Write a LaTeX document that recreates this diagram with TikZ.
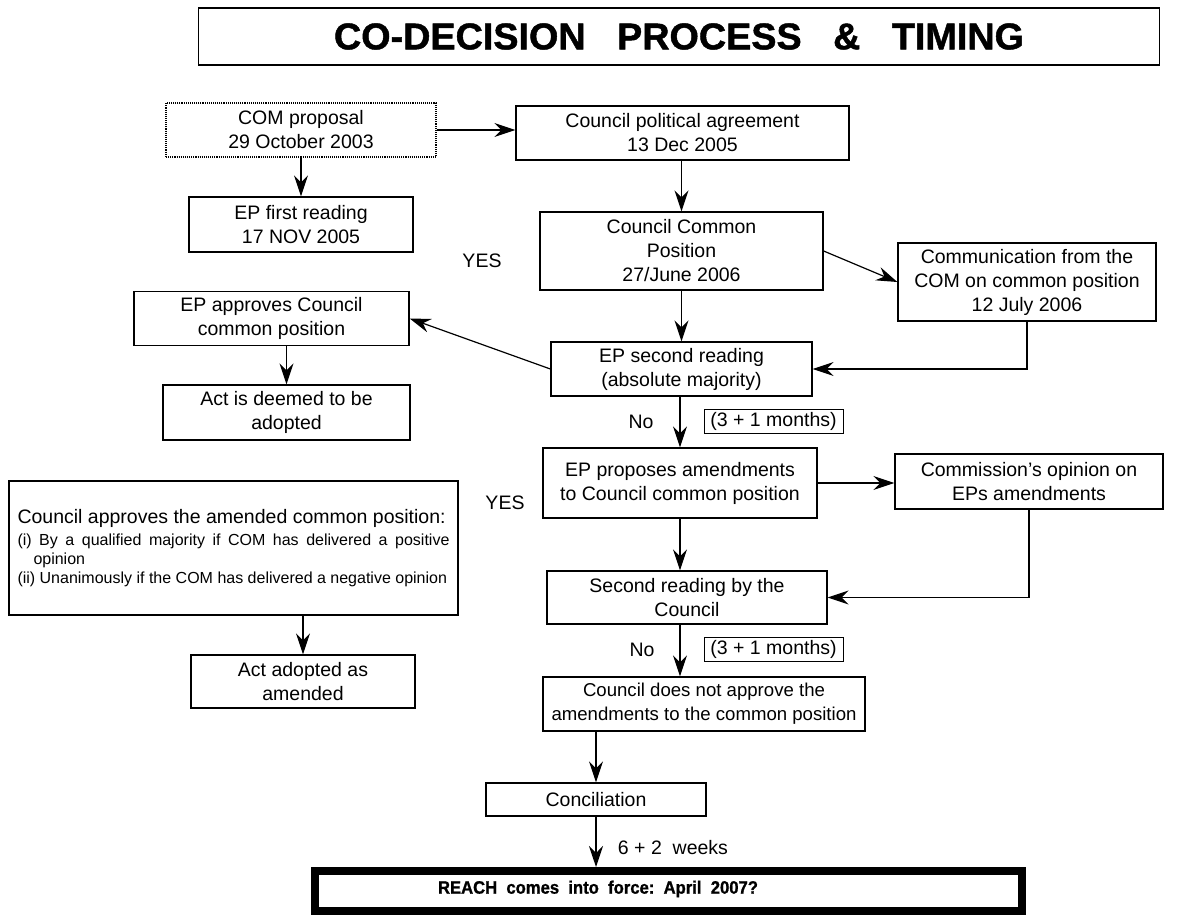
\documentclass[tikz,border=0pt]{standalone}
\usepackage{graphicx}
\usepackage{fontspec}
\setmainfont{Liberation Sans}
\newfontfamily\heavyfont{Liberation Sans}[BoldFeatures={FakeBold=1.2}]
\usetikzlibrary{arrows.meta,calc}
\begin{document}
\begin{tikzpicture}[x=1pt,y=-1pt,
  every node/.style={font=\fontsize{19.5}{24}\selectfont},
  box/.style={draw, line width=1.3pt, align=center, inner sep=0pt},
  dotbox/.style={draw, densely dotted, line width=1.1pt, align=center, inner sep=0pt},
  lbl/.style={inner sep=0pt},
  arr/.style={line width=1.2pt, -{Stealth[length=21pt,width=14pt,inset=7pt]}},
  tbox/.style={draw, line width=1pt, inner sep=0pt}]
\useasboundingbox (0,0) rectangle (1184,920);

% title
\node[box, minimum width=961pt, minimum height=57pt] (title) at (679,36.5)
  {\resizebox{690pt}{26pt}{\heavyfont\bfseries CO-DECISION\ \ \ PROCESS\ \ \ \&\ \ \ TIMING}};

% boxes
\node[dotbox, minimum width=270pt, minimum height=54pt] (com) at (301,130) {COM proposal\\29 October 2003};
\node[box, minimum width=224pt, minimum height=55pt] (epf) at (301,224.5) {EP first reading\\17 NOV 2005};
\node[box, minimum width=333pt, minimum height=54pt] (cpa) at (682.5,133) {Council political agreement\\13 Dec 2005};
\node[box, minimum width=283pt, minimum height=78pt] (ccp) at (681.5,251) {Council Common\\Position\\27/June 2006};
\node[box, minimum width=258pt, minimum height=78pt] (comm) at (1027,282) {Communication from the\\COM on common position\\12 July 2006};
\node[box, minimum width=261pt, minimum height=54pt] (epsr) at (681.5,369) {EP second reading\\(absolute majority)};
\node[box, minimum width=275pt, minimum height=54pt] (epapp) at (271.5,318.5) {EP approves Council\\common position};
\node[box, minimum width=247pt, minimum height=55pt] (actd) at (286.5,412.5) {Act is deemed to be\\adopted};
\node[box, minimum width=274pt, minimum height=70pt] (epp) at (680,483) {EP proposes amendments\\to Council common position};
\node[box, minimum width=268pt, minimum height=55pt] (copn) at (1029,481.5) {Commission’s opinion on\\EPs amendments};
\node[box, minimum width=280pt, minimum height=53pt] (src) at (687,597.5) {Second reading by the\\Council};
\node[box, minimum width=322pt, minimum height=54pt, font=\fontsize{18.6}{24}\selectfont] (ndn) at (704,704)
  {Council does not approve the\\amendments to the common position};
\node[box, minimum width=220pt, minimum height=33pt] (conc) at (596,799.5) {Conciliation};
\node[draw, line width=1.3pt, inner sep=0pt, minimum width=449pt, minimum height=134pt,
      text width=432pt, align=justify] (capp) at (233.5,548)
  {\hyphenpenalty=10000\exhyphenpenalty=10000
   \fontsize{19.5}{24}\selectfont Council approves the amended common position:\par\vspace{3pt}
   \fontsize{16}{19}\selectfont\hangindent=16pt\hangafter=1 (i) By a qualified majority if COM has delivered a positive opinion\par
   (ii) Unanimously if the COM has delivered a negative opinion\par\vspace{6pt}};
\node[box, minimum width=224pt, minimum height=53pt] (acta) at (303,681.5) {Act adopted as\\amended};
\node[draw, line width=8pt, inner sep=0pt, minimum width=707pt, minimum height=40pt] (reach) at (668.5,891) {};
\node[lbl] (reachtxt) at (598,889)
  {\resizebox{320pt}{13pt}{\heavyfont\bfseries REACH\ \ comes\ \ into\ \ force:\ \ April\ \ 2007?}};

% labels
\node[lbl] (yes1) at (482,261) {YES};
\node[lbl] (yes2) at (505,503) {YES};
\node[lbl] (no1) at (641,422) {No};
\node[lbl] (no2) at (642,650) {No};
\node[tbox, minimum width=139pt, minimum height=24pt] (m1) at (773.5,421) {(3 + 1 months)};
\node[tbox, minimum width=139pt, minimum height=24pt] (m2) at (773.5,649.5) {(3 + 1 months)};
\node[lbl] (wk) at (673,848) {6 + 2\ \ weeks};

% connectors
\draw[arr] (com.east) -- (com.east -| cpa.west);
\draw[arr] (com) -- (epf);
\draw[arr] (ccp.north |- cpa.south) -- (ccp.north);
\draw[arr] (ccp.east) -- (comm.west);
\draw[arr] (ccp) -- (epsr);
\draw[arr] (comm.south) -- (comm.south |- epsr.east) -- (epsr.east);
\draw[arr] (epsr.west) -- (epapp.east);
\draw[arr] (actd.north |- epapp.south) -- (actd.north);
\draw[arr] (epp.north |- epsr.south) -- (epp.north);
\draw[arr] (epp.east) -- (epp.east -| copn.west);
\draw[arr] (copn.south) -- (copn.south |- src.east) -- (src.east);
\draw[arr] (epp.south) -- (epp.south |- src.north);
\draw[arr] (epp.south |- src.south) -- (epp.south |- ndn.north);
\draw[arr] (conc.north |- ndn.south) -- (conc.north);
\draw[arr] (conc.south) -- (conc.south |- reach.north);
\draw[arr] (capp.south -| acta.north) -- (acta.north);
\end{tikzpicture}
\end{document}
